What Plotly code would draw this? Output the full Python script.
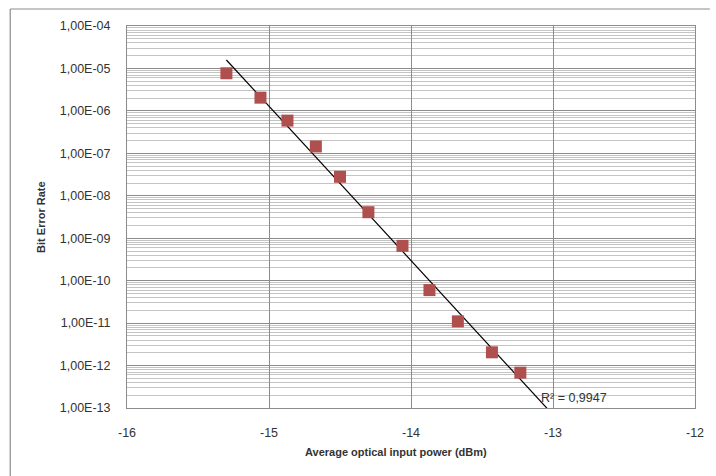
import numpy as np
import plotly.graph_objects as go

# Data
power_dbm = [-15.30, -15.06, -14.87, -14.67, -14.50, -14.30, -14.06, -13.87, -13.67, -13.43, -13.23]
ber = [7.7e-6, 2.05e-6, 5.9e-7, 1.45e-7, 2.8e-8, 4.1e-9, 6.6e-10, 6.0e-11, 1.1e-11, 2.05e-12, 6.8e-13]
y_tick_vals = [1e-4, 1e-5, 1e-6, 1e-7, 1e-8, 1e-9, 1e-10, 1e-11, 1e-12, 1e-13]
y_tick_text = ["1,00E-04", "1,00E-05", "1,00E-06", "1,00E-07", "1,00E-08",
               "1,00E-09", "1,00E-10", "1,00E-11", "1,00E-12", "1,00E-13"]
x_tick_vals = [-16, -15, -14, -13, -12]
r2_label = "R² = 0,9947"
trend_x_end = -12.95

# Exponential trend line (least squares on log10)
slope, intercept = np.polyfit(power_dbm, np.log10(ber), 1)
tx = np.linspace(power_dbm[0], trend_x_end, 60)
ty = 10 ** (slope * tx + intercept)

FONT = "Liberation Sans"
W, H = 716, 476
L, R, T, B = 127, 15, 26, 68
PW, PH = W - L - R, H - T - B

fig = go.Figure()
fig.add_trace(go.Scatter(x=tx, y=ty, mode="lines",
                         line=dict(color="black", width=1.2), hoverinfo="skip"))
fig.add_trace(go.Scatter(x=power_dbm, y=ber, mode="markers",
                         marker=dict(symbol="square", size=12, color="#b0504e")))

fig.update_layout(
    width=W, height=H,
    margin=dict(l=L, r=R, t=T, b=B, pad=0),
    paper_bgcolor="white", plot_bgcolor="white",
    showlegend=False,
    font=dict(family=FONT, size=11, color="#333"),
    xaxis=dict(range=[-16, -12], tickvals=x_tick_vals, ticktext=[str(v) for v in x_tick_vals],
               showgrid=True, gridcolor="#8c8c8c", gridwidth=1,
               showline=True, linecolor="#8c8c8c", mirror=True, zeroline=False,
               ticks="", ticklabelstandoff=13, tickfont=dict(size=12.5)),
    yaxis=dict(type="log", range=[-13, -4], tickvals=y_tick_vals, ticktext=y_tick_text,
               showgrid=True, gridcolor="#8c8c8c", gridwidth=1,
               showline=True, linecolor="#8c8c8c", mirror=True,
               ticks="", ticklabelstandoff=13, tickfont=dict(size=12.5),
               minor=dict(dtick="D1", showgrid=True, gridcolor="#c4c4c4", gridwidth=1, ticks="")),
)

def px(xp):
    return (xp - L) / PW

def py(yp):
    return (H - B - yp) / PH

fig.add_annotation(text=r2_label, xref="paper", yref="paper", x=px(543), y=py(398),
                   xanchor="left", yanchor="middle", showarrow=False,
                   font=dict(family=FONT, size=12.5, color="#333"))
fig.add_annotation(text="<b>Average optical input power (dBm)</b>", xref="paper", yref="paper",
                   x=px(399), y=py(452), xanchor="center", yanchor="middle", showarrow=False,
                   font=dict(family=FONT, size=11, color="#333"))
fig.add_annotation(text="<b>Bit Error Rate</b>", xref="paper", yref="paper",
                   x=px(40), y=py(217), textangle=-90, xanchor="center", yanchor="middle",
                   showarrow=False, font=dict(family=FONT, size=11, color="#333"))

# outer chart-area border: only its top and left edges fall inside the frame
fig.add_shape(type="line", xref="paper", yref="paper",
              x0=px(9), x1=px(716), y0=py(9), y1=py(9),
              line=dict(color="#8c8c8c", width=1.2), layer="below")
fig.add_shape(type="line", xref="paper", yref="paper",
              x0=px(9), x1=px(9), y0=py(9), y1=py(476),
              line=dict(color="#8c8c8c", width=1.2), layer="below")

fig.write_html("out.html", config={"displayModeBar": False},
               post_script="document.body.style.margin='0';document.body.style.overflow='hidden';")
